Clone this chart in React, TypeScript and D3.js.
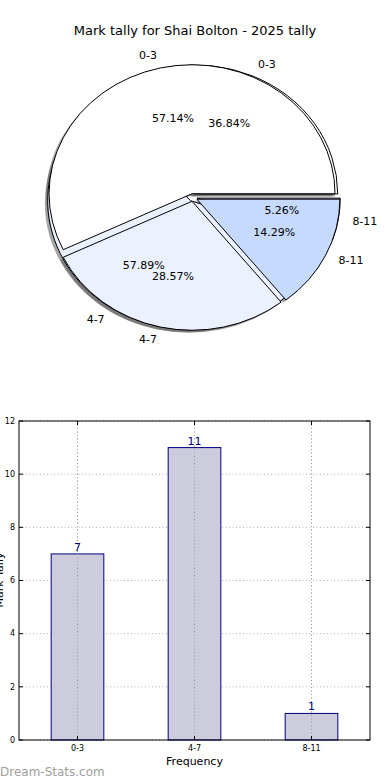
import React from 'react';
import * as d3 from 'd3';

// mark tally data
const categories = ['0-3', '4-7', '8-11'];
const tallyValues = [7, 11, 1];
// second pie as it appears in the picture
const overlayValues = [4, 2, 1];
const yTicks = [0, 2, 4, 6, 8, 10, 12];

const pieColors = ['#ffffff', '#ebf1ff', '#c6d9ff'];
const explode = [0.03, 0.03, 0.03];

const W = 390;
const H = 780;

// pie geometry (matplotlib draws it stretched, so it's an ellipse)
const cx = 193;
const cy = 197.5;
const rx = 143;
const ry = 129;

const font = 'DejaVu Sans, sans-serif';

type Slice = d3.PieArcDatum<number>;

const pieGen = d3
  .pie<number>()
  .sort(null)
  .startAngle(Math.PI / 2)
  .endAngle(Math.PI / 2 - 2 * Math.PI);

const unitArc = d3.arc<Slice>().innerRadius(0).outerRadius(1);

function offsetOf(s: Slice, i: number) {
  const a = (s.startAngle + s.endAngle) / 2;
  return { x: explode[i] * rx * Math.sin(a), y: -explode[i] * ry * Math.cos(a), a };
}

function PieWedges({ values, shadow }: { values: number[]; shadow?: boolean }) {
  const slices = pieGen(values);
  return (
    <g>
      {slices.map((s, i) => {
        const o = offsetOf(s, i);
        if (shadow) {
          return (
            <path
              key={i}
              d={unitArc(s) || ''}
              transform={`translate(${cx + o.x - 0.02 * rx},${cy + o.y + 0.02 * ry}) scale(${rx},${ry})`}
              fill="#4d4d4d"
              opacity={0.5}
            />
          );
        }
        return (
          <path
            key={i}
            d={unitArc(s) || ''}
            transform={`translate(${cx + o.x},${cy + o.y}) scale(${rx},${ry})`}
            fill={pieColors[i]}
            stroke="#000"
            strokeWidth={1}
            vectorEffect="non-scaling-stroke"
          />
        );
      })}
    </g>
  );
}

function PieTexts({ values }: { values: number[] }) {
  const slices = pieGen(values);
  const total = d3.sum(values);
  return (
    <g fontFamily={font} fontSize={11} fill="#000">
      {slices.map((s, i) => {
        const o = offsetOf(s, i);
        const sx = Math.sin(o.a);
        const sy = -Math.cos(o.a);
        return (
          <g key={i}>
            <text
              x={cx + o.x + 1.1 * rx * sx}
              y={cy + o.y + 1.1 * ry * sy}
              textAnchor={sx > 0 ? 'start' : 'end'}
              dominantBaseline="central"
            >
              {categories[i]}
            </text>
            <text
              x={cx + o.x + 0.6 * rx * sx}
              y={cy + o.y + 0.6 * ry * sy}
              textAnchor="middle"
              dominantBaseline="central"
            >
              {((s.value / total) * 100).toFixed(2) + '%'}
            </text>
          </g>
        );
      })}
    </g>
  );
}

function BarChart() {
  const left = 19;
  const right = 370;
  const top = 421;
  const bottom = 740;

  const x = d3
    .scaleBand<string>()
    .domain(categories)
    .range([left, right])
    .paddingInner(0.55)
    .paddingOuter(0.275);
  const y = d3.scaleLinear().domain([0, 12]).range([bottom, top]);

  return (
    <g fontFamily={font}>
      {yTicks.map((t) => (
        <line key={'gy' + t} x1={left} x2={right} y1={y(t)} y2={y(t)} stroke="#b0b0b0" strokeDasharray="1,2.5" />
      ))}
      {categories.map((c) => {
        const xc = (x(c) || 0) + x.bandwidth() / 2;
        return <line key={'gx' + c} x1={xc} x2={xc} y1={top} y2={bottom} stroke="#b0b0b0" strokeDasharray="1,2.5" />;
      })}
      {categories.map((c, i) => (
        <rect
          key={'b' + c}
          x={x(c)}
          y={y(tallyValues[i])}
          width={x.bandwidth()}
          height={bottom - y(tallyValues[i])}
          fill="#ccccdd"
          stroke="#000080"
          strokeWidth={1}
        />
      ))}
      {categories.map((c) => {
        const xc = (x(c) || 0) + x.bandwidth() / 2;
        return <line key={'gx2' + c} x1={xc} x2={xc} y1={top} y2={bottom} stroke="#9a9aae" strokeDasharray="1,2.5" />;
      })}
      {categories.map((c, i) => (
        <text
          key={'v' + c}
          x={(x(c) || 0) + x.bandwidth() / 2}
          y={y(tallyValues[i]) - 3}
          textAnchor="middle"
          fontSize={11}
          fill="#000080"
        >
          {tallyValues[i]}
        </text>
      ))}
      <rect x={left} y={top} width={right - left} height={bottom - top} fill="none" stroke="#000" strokeWidth={1} />
      {yTicks.map((t) => (
        <g key={'ty' + t}>
          <line x1={left} x2={left + 4} y1={y(t)} y2={y(t)} stroke="#000" />
          <line x1={right - 4} x2={right} y1={y(t)} y2={y(t)} stroke="#000" />
          <text x={left - 4} y={y(t)} dy="0.35em" textAnchor="end" fontSize={8} fill="#000">
            {t}
          </text>
        </g>
      ))}
      {categories.map((c) => {
        const xc = (x(c) || 0) + x.bandwidth() / 2;
        return (
          <g key={'tx' + c}>
            <line x1={xc} x2={xc} y1={bottom} y2={bottom - 4} stroke="#000" />
            <line x1={xc} x2={xc} y1={top} y2={top + 4} stroke="#000" />
            <text x={xc} y={bottom + 11} textAnchor="middle" fontSize={8} fill="#000">
              {c}
            </text>
          </g>
        );
      })}
      <text x={(left + right) / 2} y={765} textAnchor="middle" fontSize={11} fill="#000">
        Frequency
      </text>
      <text transform={`translate(3,580) rotate(-90)`} textAnchor="middle" fontSize={11} fill="#000">
        Mark Tally
      </text>
    </g>
  );
}

export default function App() {
  return (
    <div style={{ position: 'absolute', left: 0, top: 0 }}>
      <svg width={W} height={H} viewBox={`0 0 ${W} ${H}`} style={{ display: 'block', background: '#fff' }}>
        <rect width={W} height={H} fill="#fff" />
        <text x={195} y={35} textAnchor="middle" fontFamily={font} fontSize={13} fill="#000">
          Mark tally for Shai Bolton - 2025 tally
        </text>
        <PieWedges values={tallyValues} shadow />
        <PieWedges values={overlayValues} shadow />
        <PieWedges values={tallyValues} />
        <PieWedges values={overlayValues} />
        <PieTexts values={tallyValues} />
        <PieTexts values={overlayValues} />
        <BarChart />
        <text x={0} y={776} fontFamily={font} fontSize={12} fill="#a0a0a0">
          Dream-Stats.com
        </text>
      </svg>
    </div>
  );
}
